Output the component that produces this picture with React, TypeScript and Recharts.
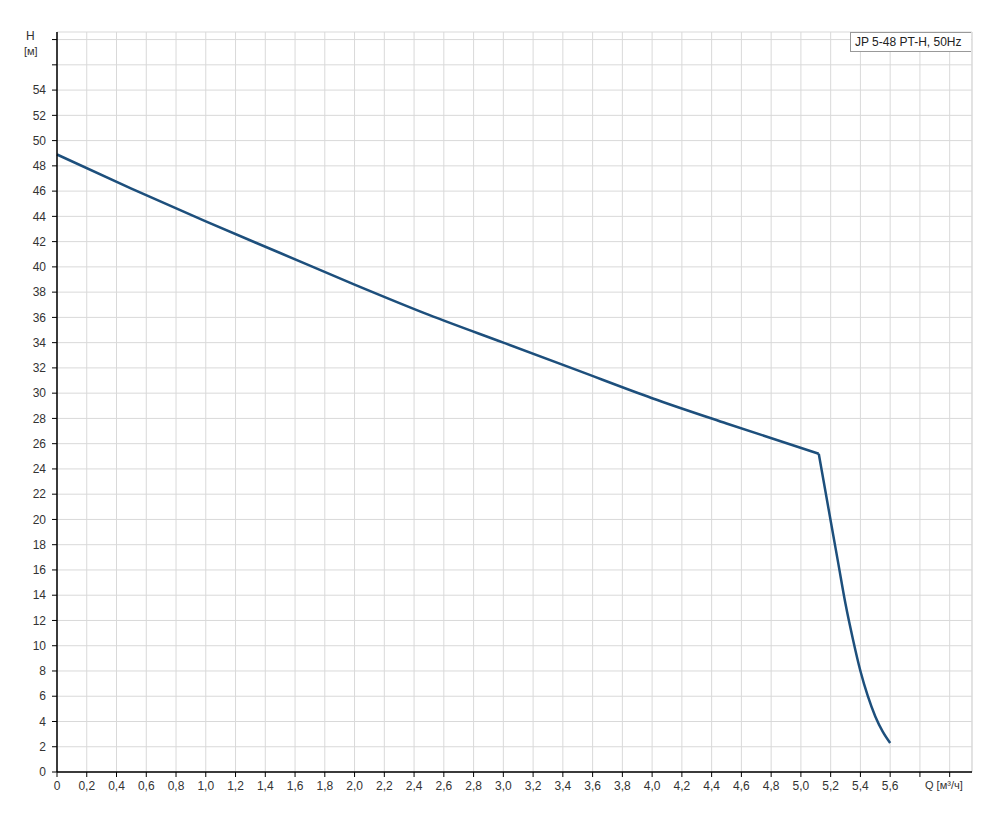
import React from "react";
import { CartesianGrid, Line, LineChart, ReferenceLine, XAxis, YAxis } from "recharts";

// pump curve JP 5-48 PT-H, 50Hz
// upper (working) branch up to the knee
const flowUpper = [0, 0.5, 1.0, 1.5, 2.0, 2.5, 3.0, 3.5, 4.0, 4.5, 5.12];
const headUpper = [48.9, 46.2, 43.6, 41.1, 38.6, 36.2, 34.0, 31.8, 29.6, 27.6, 25.2];
// steep branch after the knee
const flowSteep = [5.12, 5.2, 5.25, 5.3, 5.35, 5.4, 5.45, 5.5, 5.55, 5.6];
const headSteep = [25.2, 19.9, 16.6, 13.3, 10.5, 8.0, 6.0, 4.4, 3.2, 2.3];

const xTicks = Array.from({ length: 31 }, (_, i) => Math.round(i * 2) / 10);
const yTicks = Array.from({ length: 30 }, (_, i) => i * 2);
const seriesName = "JP 5-48 PT-H, 50Hz";

const chartData = [
  ...flowUpper.slice(0, -1).map((q, i) => ({ q, upper: headUpper[i], steep: null as number | null })),
  { q: flowUpper[flowUpper.length - 1], upper: headUpper[headUpper.length - 1], steep: headSteep[0] },
  ...flowSteep.slice(1).map((q, i) => ({ q, upper: null as number | null, steep: headSteep[i + 1] })),
];

const font = "'Liberation Sans', Arial, sans-serif";
const textColor = "#333";
const lineColor = "#1d4f7c";

export default function App() {
  return (
    <div style={{ position: "absolute", left: 0, top: 0, width: 1002, height: 833, background: "#fff", fontFamily: font }}>
      <LineChart width={1002} height={833} data={chartData} margin={{ top: 32, right: 30, left: 7, bottom: 31 }}>
        <CartesianGrid stroke="#d9d9d9" strokeWidth={1} />
        <XAxis
          dataKey="q"
          type="number"
          domain={[0, 6.15]}
          ticks={xTicks}
          interval={0}
          height={30}
          tickSize={5}
          tickMargin={4}
          axisLine={{ stroke: "#000", strokeWidth: 1.5 }}
          tickLine={{ stroke: "#000" }}
          tick={{ fontSize: 12, fill: textColor, fontFamily: font }}
          tickFormatter={(v: number) => (v > 5.7 ? "" : v === 0 ? "0" : v.toFixed(1).replace(".", ","))}
        />
        <YAxis
          type="number"
          domain={[0, 58.6]}
          ticks={yTicks}
          interval={0}
          width={50}
          tickSize={5}
          tickMargin={6}
          axisLine={{ stroke: "#000", strokeWidth: 1.5 }}
          tickLine={{ stroke: "#000" }}
          tick={{ fontSize: 12, fill: textColor, fontFamily: font }}
          tickFormatter={(v: number) => (v > 54 ? "" : String(v))}
        />
        <ReferenceLine x={6.15} stroke="#d9d9d9" />
        <Line
          type="monotone"
          dataKey="upper"
          stroke={lineColor}
          strokeWidth={2.5}
          dot={false}
          isAnimationActive={false}
        />
        <Line
          type="monotone"
          dataKey="steep"
          stroke={lineColor}
          strokeWidth={2.5}
          dot={false}
          isAnimationActive={false}
        />
      </LineChart>
      <div style={{ position: "absolute", left: 26, top: 29, fontSize: 12, color: textColor }}>H</div>
      <div style={{ position: "absolute", left: 24, top: 45, fontSize: 11, color: textColor }}>[м]</div>
      <div style={{ position: "absolute", left: 925, top: 779, fontSize: 11, color: textColor }}>Q [м³/ч]</div>
      <div
        style={{
          position: "absolute",
          left: 850,
          top: 32,
          width: 121,
          height: 20,
          boxSizing: "border-box",
          border: "1px solid #999",
          borderRight: "none",
          background: "#fff",
          fontSize: 12,
          color: "#222",
          paddingLeft: 4,
          lineHeight: "18px",
        }}
      >
        {seriesName}
      </div>
    </div>
  );
}
